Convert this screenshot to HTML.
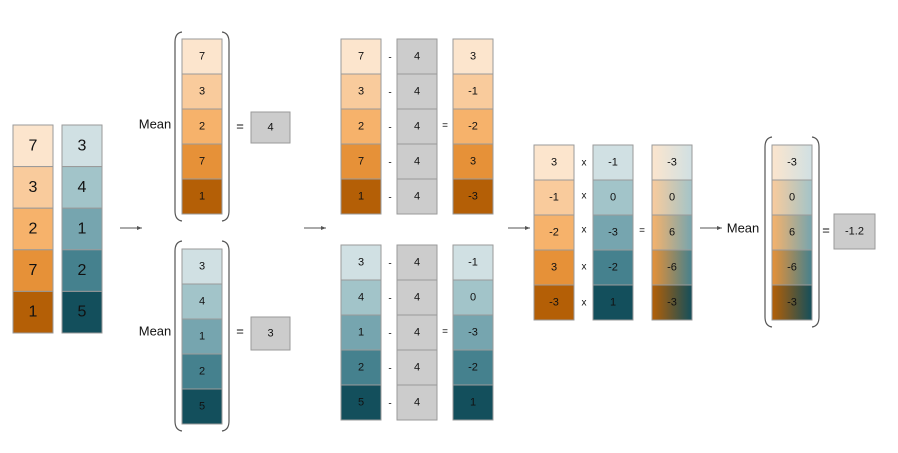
<!DOCTYPE html>
<html><head><meta charset="utf-8"><style>
html,body{margin:0;padding:0;background:#fff;width:898px;height:453px;overflow:hidden}
svg{display:block}
text{font-family:"Liberation Sans",sans-serif;fill:#111;text-anchor:middle;dominant-baseline:central}
.s{font-size:11px}.b{font-size:16px}.o{font-size:10px}.m{font-size:13px}
rect{stroke:#9a9a9a;stroke-width:1}
.br{fill:none;stroke:#555;stroke-width:1.2}
.ar{stroke:#555;stroke-width:1;fill:none}
</style></head><body>
<svg width="898" height="453" viewBox="0 0 898 453">
<defs>
<linearGradient id="g1"><stop offset="0" stop-color="#FCE5CD"/><stop offset="1" stop-color="#D0E0E3"/></linearGradient>
<linearGradient id="g2"><stop offset="0" stop-color="#F9CB9C"/><stop offset="1" stop-color="#A2C4C9"/></linearGradient>
<linearGradient id="g3"><stop offset="0" stop-color="#F6B26B"/><stop offset="1" stop-color="#76A5AF"/></linearGradient>
<linearGradient id="g4"><stop offset="0" stop-color="#E69138"/><stop offset="1" stop-color="#45818E"/></linearGradient>
<linearGradient id="g5"><stop offset="0" stop-color="#B45F06"/><stop offset="1" stop-color="#134F5C"/></linearGradient>
<marker id="ah" markerWidth="6" markerHeight="6" refX="5" refY="3" orient="auto"><path d="M0,1 L5,3 L0,5 Z" fill="#555"/></marker>
</defs>

<!-- Left big columns -->
<g>
<rect x="13" y="125" width="40" height="41.6" fill="#FCE5CD"/><text class="b" x="33" y="146">7</text>
<rect x="13" y="166.6" width="40" height="41.6" fill="#F9CB9C"/><text class="b" x="33" y="187.5">3</text>
<rect x="13" y="208.2" width="40" height="41.6" fill="#F6B26B"/><text class="b" x="33" y="229">2</text>
<rect x="13" y="249.8" width="40" height="41.6" fill="#E69138"/><text class="b" x="33" y="270.5">7</text>
<rect x="13" y="291.4" width="40" height="41.6" fill="#B45F06"/><text class="b" x="33" y="312">1</text>
<rect x="62" y="125" width="40" height="41.6" fill="#D0E0E3"/><text class="b" x="82" y="146">3</text>
<rect x="62" y="166.6" width="40" height="41.6" fill="#A2C4C9"/><text class="b" x="82" y="187.5">4</text>
<rect x="62" y="208.2" width="40" height="41.6" fill="#76A5AF"/><text class="b" x="82" y="229">1</text>
<rect x="62" y="249.8" width="40" height="41.6" fill="#45818E"/><text class="b" x="82" y="270.5">2</text>
<rect x="62" y="291.4" width="40" height="41.6" fill="#134F5C"/><text class="b" x="82" y="312">5</text>
</g>
<line class="ar" x1="120" y1="228" x2="142" y2="228" marker-end="url(#ah)"/>

<!-- Mean top -->
<text class="m" x="155" y="124">Mean</text>
<path class="br" d="M182,32 Q175,33 175,42 L175,211 Q175,220 182,221"/>
<path class="br" d="M222,32 Q229,33 229,42 L229,211 Q229,220 222,221"/>
<rect x="182" y="39" width="40" height="35" fill="#FCE5CD"/><text class="s" x="202" y="56.5">7</text>
<rect x="182" y="74" width="40" height="35" fill="#F9CB9C"/><text class="s" x="202" y="91.5">3</text>
<rect x="182" y="109" width="40" height="35" fill="#F6B26B"/><text class="s" x="202" y="126.5">2</text>
<rect x="182" y="144" width="40" height="35" fill="#E69138"/><text class="s" x="202" y="161.5">7</text>
<rect x="182" y="179" width="40" height="35" fill="#B45F06"/><text class="s" x="202" y="196.5">1</text>
<text class="m" x="240" y="126">=</text>
<rect x="251" y="112" width="39" height="31" fill="#CCCCCC"/><text class="s" x="270.5" y="127.5">4</text>

<!-- Mean bottom -->
<text class="m" x="155" y="331">Mean</text>
<path class="br" d="M182,241 Q175,242 175,251 L175,421 Q175,430 182,431"/>
<path class="br" d="M222,241 Q229,242 229,251 L229,421 Q229,430 222,431"/>
<rect x="182" y="249" width="40" height="35" fill="#D0E0E3"/><text class="s" x="202" y="266.5">3</text>
<rect x="182" y="284" width="40" height="35" fill="#A2C4C9"/><text class="s" x="202" y="301.5">4</text>
<rect x="182" y="319" width="40" height="35" fill="#76A5AF"/><text class="s" x="202" y="336.5">1</text>
<rect x="182" y="354" width="40" height="35" fill="#45818E"/><text class="s" x="202" y="371.5">2</text>
<rect x="182" y="389" width="40" height="35" fill="#134F5C"/><text class="s" x="202" y="406.5">5</text>
<text class="m" x="240" y="331">=</text>
<rect x="251" y="317" width="39" height="33" fill="#CCCCCC"/><text class="s" x="270.5" y="333.5">3</text>

<line class="ar" x1="304" y1="228" x2="326" y2="228" marker-end="url(#ah)"/>

<!-- Subtract top -->
<rect x="341" y="39" width="40" height="35" fill="#FCE5CD"/><text class="s" x="361" y="56.5">7</text>
<rect x="341" y="74" width="40" height="35" fill="#F9CB9C"/><text class="s" x="361" y="91.5">3</text>
<rect x="341" y="109" width="40" height="35" fill="#F6B26B"/><text class="s" x="361" y="126.5">2</text>
<rect x="341" y="144" width="40" height="35" fill="#E69138"/><text class="s" x="361" y="161.5">7</text>
<rect x="341" y="179" width="40" height="35" fill="#B45F06"/><text class="s" x="361" y="196.5">1</text>
<text class="o" x="390" y="58">-</text><text class="o" x="390" y="93">-</text><text class="o" x="390" y="128">-</text><text class="o" x="390" y="163">-</text><text class="o" x="390" y="198">-</text>
<rect x="397" y="39" width="40" height="35" fill="#CCCCCC"/><text class="s" x="417" y="56.5">4</text>
<rect x="397" y="74" width="40" height="35" fill="#CCCCCC"/><text class="s" x="417" y="91.5">4</text>
<rect x="397" y="109" width="40" height="35" fill="#CCCCCC"/><text class="s" x="417" y="126.5">4</text>
<rect x="397" y="144" width="40" height="35" fill="#CCCCCC"/><text class="s" x="417" y="161.5">4</text>
<rect x="397" y="179" width="40" height="35" fill="#CCCCCC"/><text class="s" x="417" y="196.5">4</text>
<text class="o" x="445" y="126">=</text>
<rect x="453" y="39" width="40" height="35" fill="#FCE5CD"/><text class="s" x="473" y="56.5">3</text>
<rect x="453" y="74" width="40" height="35" fill="#F9CB9C"/><text class="s" x="473" y="91.5">-1</text>
<rect x="453" y="109" width="40" height="35" fill="#F6B26B"/><text class="s" x="473" y="126.5">-2</text>
<rect x="453" y="144" width="40" height="35" fill="#E69138"/><text class="s" x="473" y="161.5">3</text>
<rect x="453" y="179" width="40" height="35" fill="#B45F06"/><text class="s" x="473" y="196.5">-3</text>

<!-- Subtract bottom -->
<rect x="341" y="245" width="40" height="35" fill="#D0E0E3"/><text class="s" x="361" y="262.5">3</text>
<rect x="341" y="280" width="40" height="35" fill="#A2C4C9"/><text class="s" x="361" y="297.5">4</text>
<rect x="341" y="315" width="40" height="35" fill="#76A5AF"/><text class="s" x="361" y="332.5">1</text>
<rect x="341" y="350" width="40" height="35" fill="#45818E"/><text class="s" x="361" y="367.5">2</text>
<rect x="341" y="385" width="40" height="35" fill="#134F5C"/><text class="s" x="361" y="402.5">5</text>
<text class="o" x="390" y="264">-</text><text class="o" x="390" y="299">-</text><text class="o" x="390" y="334">-</text><text class="o" x="390" y="369">-</text><text class="o" x="390" y="404">-</text>
<rect x="397" y="245" width="40" height="35" fill="#CCCCCC"/><text class="s" x="417" y="262.5">4</text>
<rect x="397" y="280" width="40" height="35" fill="#CCCCCC"/><text class="s" x="417" y="297.5">4</text>
<rect x="397" y="315" width="40" height="35" fill="#CCCCCC"/><text class="s" x="417" y="332.5">4</text>
<rect x="397" y="350" width="40" height="35" fill="#CCCCCC"/><text class="s" x="417" y="367.5">4</text>
<rect x="397" y="385" width="40" height="35" fill="#CCCCCC"/><text class="s" x="417" y="402.5">4</text>
<text class="o" x="445" y="332">=</text>
<rect x="453" y="245" width="40" height="35" fill="#D0E0E3"/><text class="s" x="473" y="262.5">-1</text>
<rect x="453" y="280" width="40" height="35" fill="#A2C4C9"/><text class="s" x="473" y="297.5">0</text>
<rect x="453" y="315" width="40" height="35" fill="#76A5AF"/><text class="s" x="473" y="332.5">-3</text>
<rect x="453" y="350" width="40" height="35" fill="#45818E"/><text class="s" x="473" y="367.5">-2</text>
<rect x="453" y="385" width="40" height="35" fill="#134F5C"/><text class="s" x="473" y="402.5">1</text>

<line class="ar" x1="508" y1="228" x2="530" y2="228" marker-end="url(#ah)"/>

<!-- Product -->
<rect x="534" y="145" width="40" height="35" fill="#FCE5CD"/><text class="s" x="554" y="162.5">3</text>
<rect x="534" y="180" width="40" height="35" fill="#F9CB9C"/><text class="s" x="554" y="197.5">-1</text>
<rect x="534" y="215" width="40" height="35" fill="#F6B26B"/><text class="s" x="554" y="232.5">-2</text>
<rect x="534" y="250" width="40" height="35" fill="#E69138"/><text class="s" x="554" y="267.5">3</text>
<rect x="534" y="285" width="40" height="35" fill="#B45F06"/><text class="s" x="554" y="302.5">-3</text>
<text class="o" x="584" y="163">x</text><text class="o" x="584" y="196">x</text><text class="o" x="584" y="230">x</text><text class="o" x="584" y="267">x</text><text class="o" x="584" y="303">x</text>
<rect x="593" y="145" width="40" height="35" fill="#D0E0E3"/><text class="s" x="613" y="162.5">-1</text>
<rect x="593" y="180" width="40" height="35" fill="#A2C4C9"/><text class="s" x="613" y="197.5">0</text>
<rect x="593" y="215" width="40" height="35" fill="#76A5AF"/><text class="s" x="613" y="232.5">-3</text>
<rect x="593" y="250" width="40" height="35" fill="#45818E"/><text class="s" x="613" y="267.5">-2</text>
<rect x="593" y="285" width="40" height="35" fill="#134F5C"/><text class="s" x="613" y="302.5">1</text>
<text class="o" x="642" y="231">=</text>
<rect x="652" y="145" width="40" height="35" fill="url(#g1)"/><text class="s" x="672" y="162.5">-3</text>
<rect x="652" y="180" width="40" height="35" fill="url(#g2)"/><text class="s" x="672" y="197.5">0</text>
<rect x="652" y="215" width="40" height="35" fill="url(#g3)"/><text class="s" x="672" y="232.5">6</text>
<rect x="652" y="250" width="40" height="35" fill="url(#g4)"/><text class="s" x="672" y="267.5">-6</text>
<rect x="652" y="285" width="40" height="35" fill="url(#g5)"/><text class="s" x="672" y="302.5">-3</text>

<line class="ar" x1="700" y1="228" x2="722" y2="228" marker-end="url(#ah)"/>
<text class="m" x="743" y="228">Mean</text>
<path class="br" d="M772,137 Q765,138 765,147 L765,317 Q765,326 772,327"/>
<path class="br" d="M812,137 Q819,138 819,147 L819,317 Q819,326 812,327"/>
<rect x="772" y="145" width="40" height="35" fill="url(#g1)"/><text class="s" x="792" y="162.5">-3</text>
<rect x="772" y="180" width="40" height="35" fill="url(#g2)"/><text class="s" x="792" y="197.5">0</text>
<rect x="772" y="215" width="40" height="35" fill="url(#g3)"/><text class="s" x="792" y="232.5">6</text>
<rect x="772" y="250" width="40" height="35" fill="url(#g4)"/><text class="s" x="792" y="267.5">-6</text>
<rect x="772" y="285" width="40" height="35" fill="url(#g5)"/><text class="s" x="792" y="302.5">-3</text>
<text class="m" x="826" y="230">=</text>
<rect x="834" y="214" width="41" height="35" fill="#CCCCCC"/><text class="s" x="854.5" y="231.5">-1.2</text>
</svg>
</body></html>
